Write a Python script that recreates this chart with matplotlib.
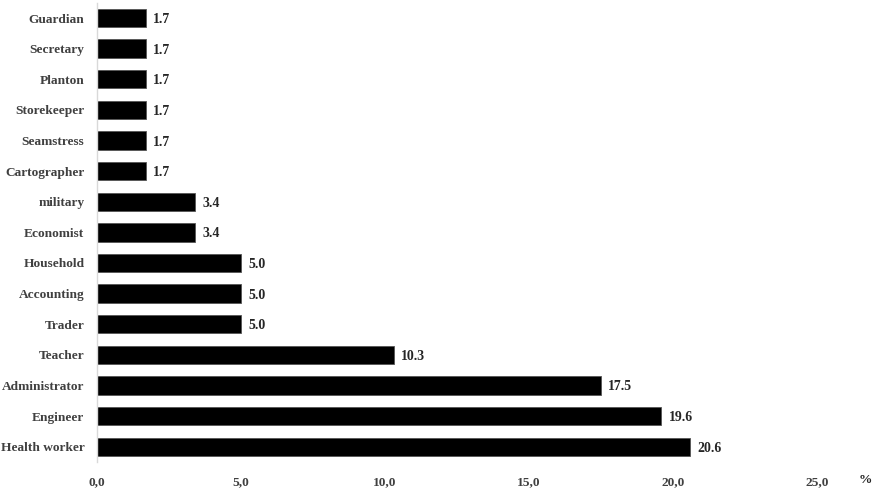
import matplotlib
matplotlib.use("Agg")
import matplotlib.pyplot as plt

categories = ["Health worker", "Engineer", "Administrator", "Teacher", "Trader",
              "Accounting", "Household", "Economist", "military", "Cartographer",
              "Seamstress", "Storekeeper", "Planton", "Secretary", "Guardian"]
values = [20.6, 19.6, 17.5, 10.3, 5.0, 5.0, 5.0, 3.4, 3.4, 1.7, 1.7, 1.7, 1.7, 1.7, 1.7]
xticks = [0, 5, 10, 15, 20, 25]
xtick_labels = ["0,0", "5,0", "10,0", "15,0", "20,0", "25,0"]

FONT = "Liberation Serif"
FS = 9.6

fig = plt.figure(figsize=(8.89, 5.03), dpi=100)
ax = fig.add_axes([97/889, 1-462/503, 720/889, (462-2.7)/503])
ypos = list(range(len(categories)))
ax.barh(ypos, values, height=0.6, color="black", edgecolor="#555555", linewidth=0.6)
for y, v in zip(ypos, values):
    ax.text(v + 0.25, y - 0.05, f"{v:.1f}", va="center", ha="left", fontsize=FS + 0.4,
            fontweight="bold", family=FONT, color="#262626")
ax.set_xlim(0, 25)
ax.set_ylim(-0.5, 14.5)
ax.set_yticks(ypos)
ax.set_yticklabels(categories, fontsize=FS, fontweight="bold", family=FONT, color="#404040")
ax.set_xticks(xticks)
ax.set_xticklabels(xtick_labels, fontsize=FS, fontweight="bold", family=FONT, color="#404040")
ax.tick_params(axis="both", length=0)
ax.tick_params(axis="x", pad=10)
ax.tick_params(axis="y", pad=9)
for s in ["top", "right", "bottom"]:
    ax.spines[s].set_visible(False)
ax.spines["left"].set_color("#d9d9d9")
ax.spines["left"].set_linewidth(1)
fig.text(865/889, 1-480/503, "%", fontsize=FS, fontweight="bold", family=FONT,
         color="#262626", ha="center", va="center")
fig.savefig("out.png", dpi=100)
